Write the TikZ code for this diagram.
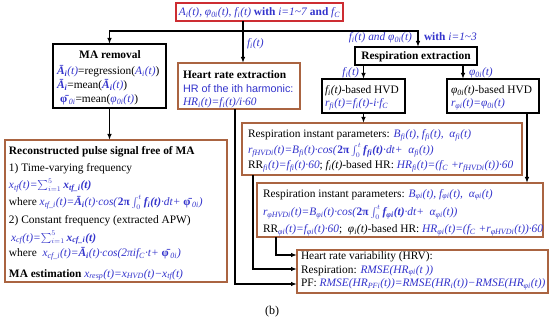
\documentclass[tikz,border=0pt]{standalone}
\usepackage{fontspec}
\setmainfont{Liberation Serif}
\newfontfamily\arialf{Liberation Sans}
\usetikzlibrary{arrows.meta}
\definecolor{tb}{RGB}{51,51,204}
\definecolor{redc}{RGB}{205,45,50}
\definecolor{brownc}{RGB}{170,100,65}
\newcommand\bl[1]{\textcolor{tb}{#1}}
\newcommand\I[1]{\textit{#1}}
\newcommand\s[1]{\textsubscript{#1}}
\newcommand\Bi[1]{\textbf{\textit{#1}}}
\newcommand\intt{{\fontsize{10}{12}\selectfont$\int_0^t$}}
\newcommand\sumi{{\fontsize{10.5}{12}\selectfont$\sum_{i=1}^{5}$}}
\begin{document}
\begin{tikzpicture}[x=1pt,y=-1pt,
  every node/.style={inner sep=0pt, outer sep=0pt, font=\fontsize{11.4}{13}\selectfont},
  bbox/.style={draw=black, line width=1.2pt, fill=white},
  rbox/.style={draw=redc, line width=1.3pt, fill=white},
  brbox/.style={draw=brownc, line width=1.6pt, fill=white},
  conn/.style={line width=1.2pt, -{Latex[length=6pt,width=4.5pt]}},
  wire/.style={line width=1.2pt},
  ln/.style={anchor=base west},
  hd/.style={anchor=base, font=\fontsize{11.4}{13}\selectfont\bfseries}
]
\useasboundingbox (0,0) rectangle (550,321);
\fill[white] (0,0) rectangle (550,321);

% boxes
\node[rbox, minimum width=167pt, minimum height=18pt] (top) at (259.5,12) {};
\node[bbox, minimum width=113pt, minimum height=64pt] (ma) at (109.5,76) {};
\node[brbox, minimum width=122pt, minimum height=46pt] (hr) at (239,86) {};
\node[bbox, minimum width=122pt, minimum height=18pt] (resp) at (416,56) {};
\node[bbox, minimum width=83pt, minimum height=34pt] (hvdf) at (363.5,96) {};
\node[bbox, minimum width=92pt, minimum height=34pt] (hvdp) at (493,96) {};
\node[brbox, minimum width=280pt, minimum height=52pt] (par1) at (382,149) {};
\node[brbox, minimum width=286pt, minimum height=54pt] (par2) at (400,210) {};
\node[brbox, minimum width=222pt, minimum height=142pt] (rec) at (116,211) {};
\node[brbox, minimum width=251pt, minimum height=43pt] (fin) at (422.5,271.5) {};

% coordinates for connectors
\coordinate (j) at (243,31);
\coordinate (xr) at (418,31);
\coordinate (xp) at (463,70);
\coordinate (xq) at (527,150);
\coordinate (p1) at (235,284);
\coordinate (p2) at (253,269);
\coordinate (p3) at (276,255);

% connectors
\draw[wire] (top.south -| j) -- (j);
\draw[conn] (j) -| (ma.north);
\draw[conn] (j) -- (hr.north -| j);
\draw[conn] (j) -- (xr) -- (resp.north -| xr);
\draw[conn] (resp.south -| hvdf.north) -- (hvdf.north);
\draw[conn] (resp.south -| xp) -- (hvdp.north -| xp);
\draw[conn] (hvdf.south) -- (hvdf.south |- par1.north);
\draw[conn] (hvdp.south -| xq) -- (par2.north -| xq);
\draw[conn] (ma.south) -- (ma.south |- rec.north);
\draw[conn] (hr.south -| p1) |- (fin.west |- p1);
\draw[conn] (par1.south -| p2) |- (fin.west |- p2);
\draw[conn] (par2.south -| p3) |- (fin.west |- p3);

% connector labels
\node[ln] (lf) at (247,47) {\bl{\I{f\s{i}(t)}}};
\node[anchor=base east] (lfp) at (412,41) {\bl{\I{f\s{i}(t) and φ\s{0i}(t)}}};
\node[ln] (lw) at (424,41) {\bl{\textbf{with} \I{i=1\textasciitilde3}}};
\node[anchor=base east] (lf2) at (359,75.5) {\bl{\I{f\s{i}(t)}}};
\node[ln] (lp2) at (469,75.5) {\bl{\I{φ\s{0i}(t)}}};

% top text
\node[anchor=base] (toptxt) at (259.5,16) {\bl{\I{A\s{i}(t), φ\s{0i}(t), f\s{i}(t)} \textbf{with} \I{i=1\textasciitilde7} \textbf{and} \I{f\s{C}}}};

% MA removal
\node[hd] (mah) at (110,59) {MA removal};
\node[ln] (ma1) at (57,75) {\bl{\Bi{Ā\s{i}}\I{(t)}}=regression(\bl{\I{A\s{i}(t)}})};
\node[ln] (ma2) at (57,88.5) {\bl{\Bi{Ā\s{i}}}=mean(\bl{\Bi{Ā\s{i}}\I{(t)}})};
\node[ln] (ma3) at (60,102.5) {\bl{\textbf{\=φ}\s{\I{0i}}}=mean(\bl{\I{φ\s{0i}(t)}})};

% HR extraction
\node[ln, font=\fontsize{11.4}{13}\selectfont\bfseries] (hr1) at (183,79) {Heart rate extraction};
\node[ln] (hr2) at (183,93) {\fontsize{10.8}{13}\arialf\bl{HR of the ith harmonic:}};
\node[ln] (hr3) at (183,106) {\bl{\I{HR\s{i}(t)=f\s{i}(t)/i·60}}};

% Respiration extraction
\node[hd] (resph) at (416,60) {Respiration extraction};

% HVD boxes
\node[ln] (hf1) at (325,94) {\I{f\s{i}(t)}-based HVD};
\node[ln] (hf2) at (325,106.5) {\bl{\I{r\s{fi}(t)=f\s{i}(t)-i·f\s{C}}}};
\node[ln] (hp1) at (451,94) {\I{φ\s{0i}(t)}-based HVD};
\node[ln] (hp2) at (451,106.5) {\bl{\I{r\s{φi}(t)=φ\s{0i}(t)}}};

% par1
\node[ln] (pa1) at (248,138) {Respiration instant parameters: \bl{\I{B\s{fi}(t), f\s{fi}(t), \ α\s{fi}(t)}}};
\node[ln] (pa2) at (248,153.5) {\bl{\I{r\s{fHVDi}(t)=B\s{fi}(t)·cos(}\textbf{2π}\,\intt\,\Bi{f\s{fi}(t)}\I{·dt+ \ α\s{fi}(t))}}};
\node[ln] (pa3) at (248,169) {RR\bl{\I{\s{fi}(t)=f\s{fi}(t)·60}}; \I{f\s{i}(t)}-based HR: \bl{\I{HR\s{fi}(t)=(f\s{C} +r\s{fHVDi}(t))·60}}};

% par2
\node[ln] (pb1) at (263,197) {Respiration instant parameters: \bl{\I{B\s{φi}(t), f\s{φi}(t), \ α\s{φi}(t)}}};
\node[ln] (pb2) at (263,215.5) {\bl{\I{r\s{φHVDi}(t)=B\s{φi}(t)·cos(}\textbf{2π}\,\intt\,\Bi{f\s{φi}(t)}\I{·dt+ \ α\s{φi}(t))}}};
\node[ln] (pb3) at (263,233) {RR\bl{\I{\s{φi}(t)=f\s{φi}(t)·60}}; \ \I{φ\s{i}(t)}-based HR: \bl{\I{HR\s{φi}(t)=(f\s{C} +r\s{φHVDi}(t))·60}}};

% reconstructed
\node[ln, font=\fontsize{11.4}{13}\selectfont\bfseries] (r1) at (9,155) {Reconstructed pulse signal free of MA};
\node[ln] (r2) at (9,171.5) {1) Time-varying frequency};
\node[ln] (r3) at (9,188.5) {\bl{\I{x\s{tf}(t)=}\sumi\,\Bi{x\s{tf\_i}(t)}}};
\node[ln] (r4) at (9,205.5) {where \bl{\I{x\s{tf\_i}(t)=}\Bi{Ā\s{i}}\I{(t)·cos(}\textbf{2π}\,\intt\,\Bi{f\s{i}(t)}\I{·dt+} \textbf{\=φ}\s{\I{0i}}\I{)}}};
\node[ln] (r5) at (9,223) {2) Constant frequency (extracted APW)};
\node[ln] (r6) at (11,241) {\bl{\I{x\s{cf}(t)=}\sumi\,\Bi{x\s{cf\_i}(t)}}};
\node[ln] (r7) at (9,256.5) {where \ \bl{\I{x\s{cf\_i}(t)=}\Bi{Ā\s{i}}\I{(t)·cos(2πif\s{C}·t+} \textbf{\=φ}\s{\I{0i}}\I{)}}};
\node[ln] (r8) at (9,277) {\textbf{MA estimation} \bl{\I{x\s{resp}(t)=x\s{HVD}(t)−x\s{tf}(t)}}};

% final
\node[ln] (f1) at (301,259) {Heart rate variability (HRV):};
\node[ln] (f2) at (301,273) {Respiration: \bl{\I{RMSE(HR\s{φi}(t ))}}};
\node[ln] (f3) at (301,287) {PF: \bl{\I{RMSE(HR\s{PFi}(t))=RMSE(HR\s{i}(t))−RMSE(HR\s{φi}(t))}}};

% caption
\node[anchor=base, font=\fontsize{12}{14}\selectfont] (cap) at (272,314.5) {(b)};
\end{tikzpicture}
\end{document}
